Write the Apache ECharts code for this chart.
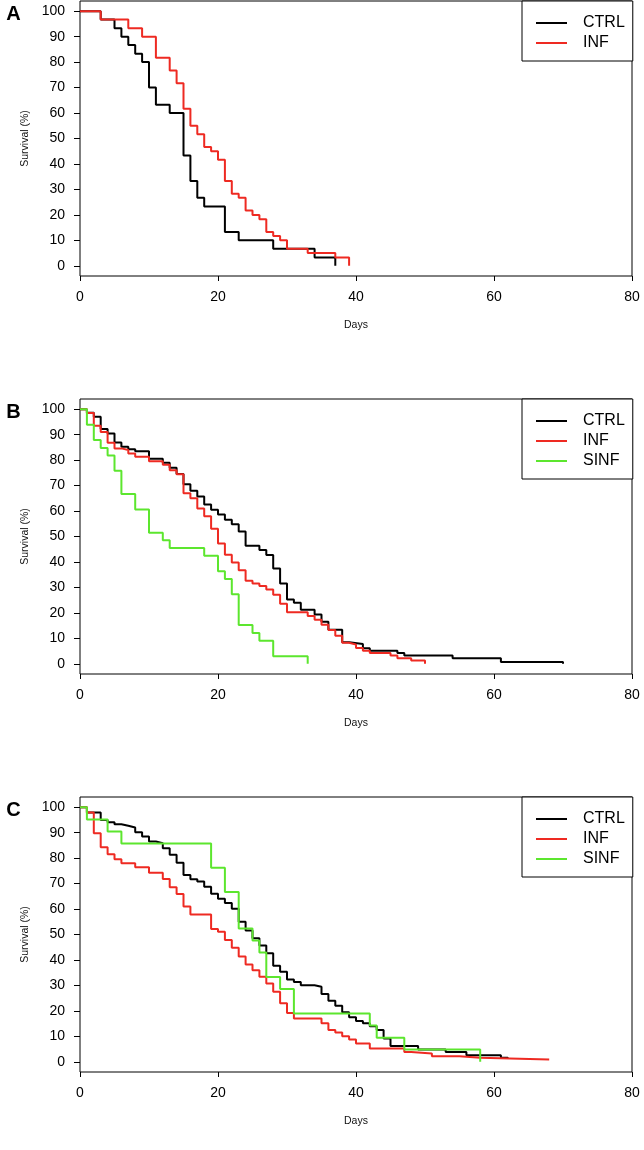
<!DOCTYPE html>
<html><head><meta charset="utf-8">
<script src="https://cdn.jsdelivr.net/npm/echarts@6/dist/echarts.min.js"></script>
<style>html,body{margin:0;padding:0;background:#fff}#c{width:644px;height:1150px}</style>
</head><body><div id="c"></div>
<script>
// ---- tick labels ----
const xTicks = [0, 20, 40, 60, 80];
const yTicks = [0, 10, 20, 30, 40, 50, 60, 70, 80, 90, 100];
const panelLetters = ['A', 'B', 'C'];
const groups = ['CTRL', 'INF', 'SINF'];

// ---- Panel A ----
const aCtrlDays = [0,3,5,6,7,8,9,10,11,13,15,16,17,18,21,23,28,34,37];
const aCtrlSurv = [100,96.7,93.3,90,86.7,83.3,80,70,63.3,60,43.3,33.3,26.7,23.3,13.3,10,6.7,3.3,0];
const aInfDays = [0,3,7,9,11,13,14,15,16,17,18,19,20,21,22,23,24,25,26,27,28,29,30,33,37,39];
const aInfSurv = [100,96.7,93.3,90,81.7,76.7,71.7,61.7,55,51.7,46.7,45,41.7,33.3,28.3,26.7,21.7,20,18.3,13.3,11.7,10,6.7,5,3.3,0];

// ---- Panel B ----
const bCtrlDays = [0,1,2,3,4,5,6,7,8,10,12,13,14,15,16,17,18,19,20,21,22,23,24,26,27,28,29,30,31,32,34,35,36,38,39,41,42,46,47,54,61,70];
const bCtrlSurv = [100,98.6,97,92.2,90.5,86.9,85.2,84.3,83.5,80.5,79,77,74.5,70.5,68,65.7,62.6,60.5,58.6,56.6,54.8,52,46.4,44.7,42.7,37.4,31.5,25.3,24,21.2,19.4,16.5,13.4,8.5,7.8,6.1,5.1,4.2,3.3,2.2,0.7,0];
const bInfDays = [0,1,2,3,4,5,6,7,8,10,12,13,14,15,16,17,18,19,20,21,22,23,24,25,26,27,28,29,30,33,34,35,36,37,38,39,40,41,42,45,46,48,50];
const bInfSurv = [100,98.5,93.5,91,86.8,84.6,84,82.6,81.3,79.6,78.2,76,74.4,67,65,61,58,53,47.3,42.8,39.8,36.7,32.6,31.5,30.6,29.2,27.1,23.6,20.3,18.8,17.3,15.3,13.3,11,8.3,7.6,6.2,5.1,4.2,3.3,2.2,1.3,0];
const bSinfDays = [0,1,2,3,4,5,6,8,10,12,13,18,20,21,22,23,25,26,28,33];
const bSinfSurv = [100,93.9,87.9,84.8,81.8,75.8,66.7,60.6,51.5,48.5,45.5,42.4,36.4,33.3,27.3,15.2,12.1,9.1,3.0,0];

// ---- Panel C ----
const cCtrlDays = [0,1,3,4,5,6,7,8,9,10,11,12,13,14,15,16,17,18,19,20,21,22,23,24,25,26,27,28,29,30,31,32,34,35,36,37,38,39,40,41,42,43,44,45,49,53,56,61,62];
const cCtrlSurv = [100,97.9,95,94.1,93.3,92.7,92,90.2,88.5,86.5,85.8,83.9,81.3,78.2,73.4,71.7,70.8,68.8,66,64,62.4,60.1,55,51.6,48.5,45.7,42.6,37.7,35.4,32.3,31.3,30.1,29.5,26.6,24,22,19.5,17.5,16,15.1,14,12.5,9.2,6.2,4.8,3.9,2.6,1.6,1.3];
const cInfDays = [0,1,2,3,4,5,6,8,10,12,13,14,15,16,19,20,21,22,23,24,25,26,27,28,29,30,31,35,36,37,38,39,40,42,47,48,51,55,58,68];
const cInfSurv = [100,97.9,89.8,84.3,81.5,79.6,78,76.4,74.3,71.8,68.6,65.9,61,57.9,52.2,51.1,47.8,44.8,41.4,38.2,36,33.4,30.8,27.5,23,19.2,17,15.1,12.5,11.5,10,8.8,7.2,5.2,3.9,3.3,2.2,1.6,0.9,0.9];
const cSinfDays = [0,1,4,6,19,21,23,25,26,27,29,31,42,43,47,58];
const cSinfSurv = [100,95.2,90.5,85.7,76.2,66.7,52.4,47.6,42.9,33.3,28.6,19.0,14.3,9.5,4.8,0];

const FONT = '"Liberation Sans", Arial, Helvetica, sans-serif';
const COLORS = { CTRL: '#000000', INF: '#ee2a22', SINF: '#5ce62e' };
const pairs = (d, s) => d.map((v, i) => [v, s[i]]);

const panels = [
  [['CTRL', aCtrlDays, aCtrlSurv], ['INF', aInfDays, aInfSurv]],
  [['CTRL', bCtrlDays, bCtrlSurv], ['INF', bInfDays, bInfSurv], ['SINF', bSinfDays, bSinfSurv]],
  [['CTRL', cCtrlDays, cCtrlSurv], ['INF', cInfDays, cInfSurv], ['SINF', cSinfDays, cSinfSurv]]
];
const tops = [1, 399, 797];

const grid = tops.map(t => ({ left: 80, top: t, width: 552, height: 275, show: true, borderColor: '#000', borderWidth: 1, backgroundColor: 'transparent', containLabel: false }));

const xAxis = tops.map((t, i) => ({
  type: 'value', gridIndex: i, min: xTicks[0], max: xTicks[xTicks.length - 1], interval: 20,
  axisLine: { show: false, onZero: false },
  axisTick: { show: true, inside: false, length: 5, lineStyle: { color: '#000', width: 1 } },
  axisLabel: { margin: 14, fontSize: 14, color: '#000', fontFamily: FONT },
  splitLine: { show: false },
  name: 'Days', nameLocation: 'middle', nameGap: 44,
  nameTextStyle: { fontSize: 10.5, color: '#111', fontFamily: FONT }
}));

const yAxis = tops.map((t, i) => ({
  type: 'value', gridIndex: i, min: -4, max: 104,
  axisLine: { show: false, onZero: false },
  axisTick: { show: true, length: 6, customValues: yTicks, lineStyle: { color: '#000', width: 1 } },
  axisLabel: { margin: 15, fontSize: 14, color: '#000', fontFamily: FONT, customValues: yTicks },
  splitLine: { show: false },
  name: 'Survival (%)', nameLocation: 'middle', nameGap: 40, nameRotate: 90,
  nameTextStyle: { fontSize: 10.5, color: '#111', fontFamily: FONT }
}));

const series = [];
panels.forEach((p, i) => {
  p.forEach(([name, d, s]) => {
    series.push({
      name, type: 'line', xAxisIndex: i, yAxisIndex: i, step: 'end',
      symbol: 'none', showSymbol: false, data: pairs(d, s),
      lineStyle: { color: COLORS[name], width: 2 }, itemStyle: { color: COLORS[name] },
      animation: false, silent: true
    });
  });
});

const legend = panels.map((p, i) => ({
  data: p.map(x => ({ name: x[0], icon: 'rect' })), orient: 'vertical', left: 522, top: tops[i],
  padding: [14, 8, 10, 14], itemWidth: 31, itemHeight: 2, itemGap: 4,
  borderColor: '#000', borderWidth: 1, borderRadius: 0, backgroundColor: '#fff',
  selectedMode: false,
  textStyle: { fontSize: 16, color: '#000', fontFamily: FONT, padding: [0, 0, 0, 11], lineHeight: 16 }
}));

const graphic = tops.map((t, i) => ({
  type: 'text', x: 13.5, y: t + 13,
  style: { text: panelLetters[i], font: 'bold 20px ' + FONT, fill: '#000', textAlign: 'center', textVerticalAlign: 'middle' }
}));

const chart = echarts.init(document.getElementById('c'), null, { renderer: 'canvas' });
chart.setOption({ animation: false, backgroundColor: '#fff', grid, xAxis, yAxis, series, legend, graphic });
</script>
</body></html>
